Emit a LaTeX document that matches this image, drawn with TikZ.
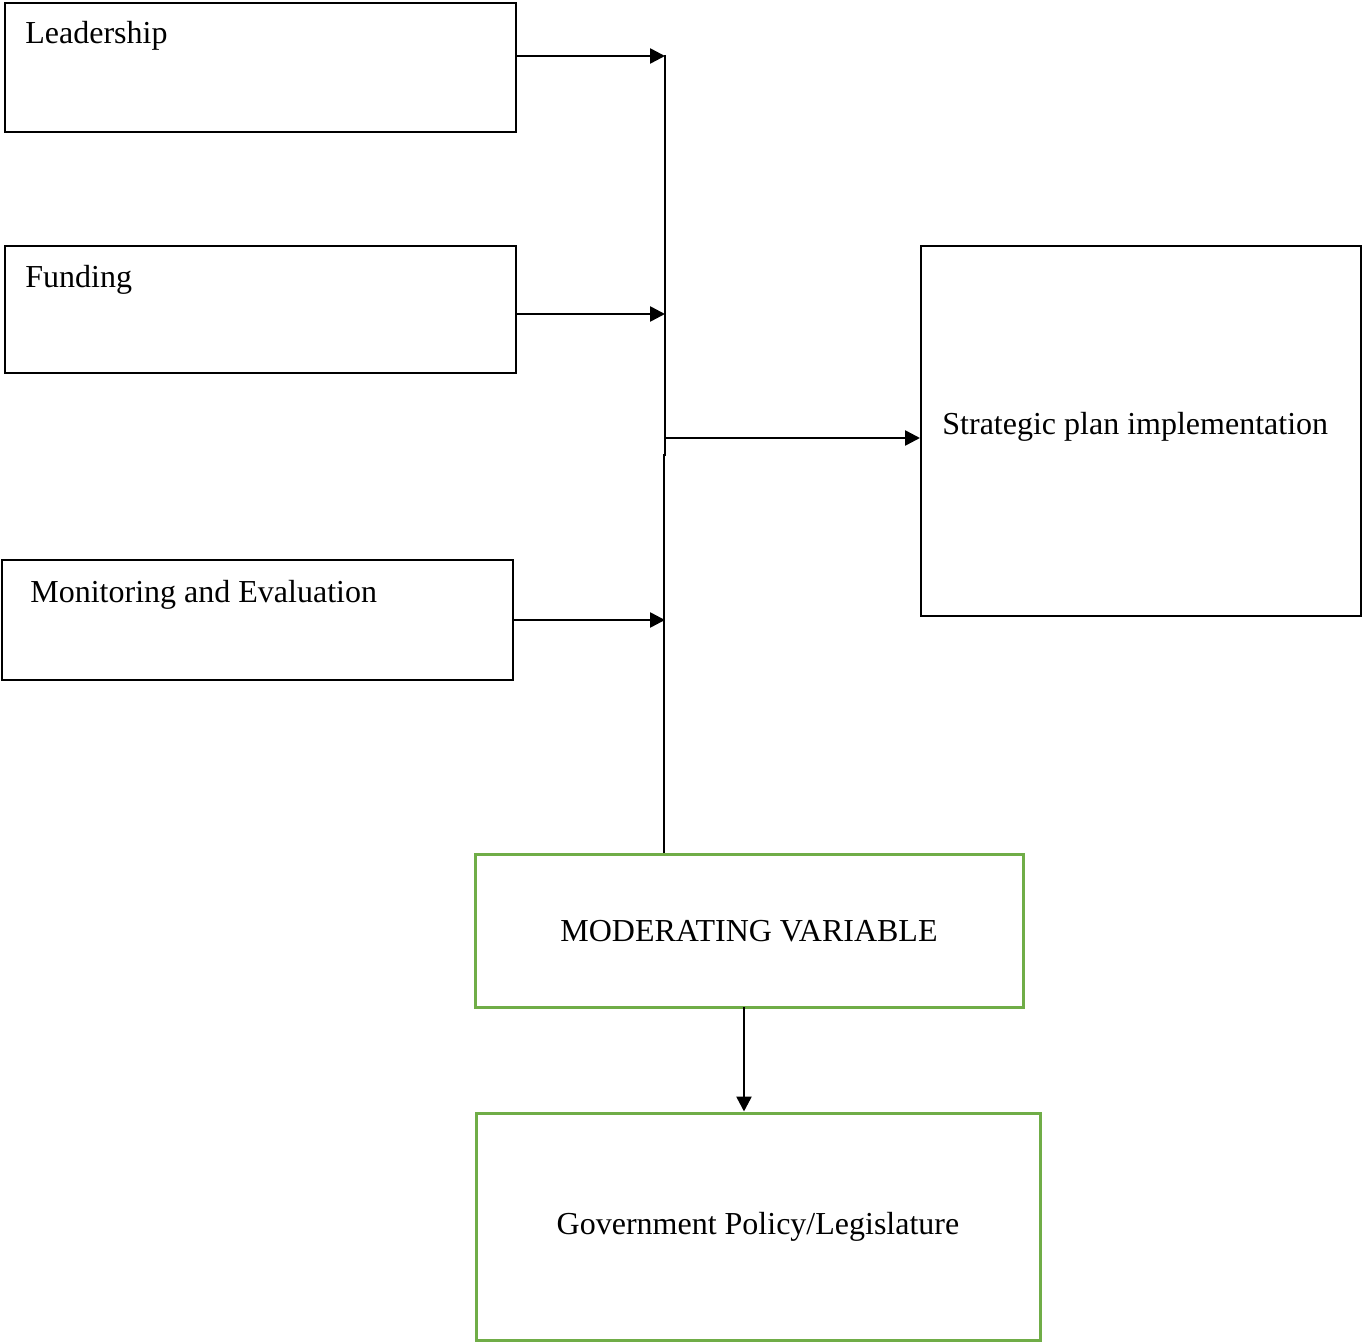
\documentclass[tikz,border=0pt]{standalone}
\usepackage{fontspec}
\setmainfont{Liberation Serif}
\usetikzlibrary{arrows.meta}
\usetikzlibrary{positioning}

\definecolor{modgreen}{RGB}{112,173,71}

\tikzset{
  box/.style={draw=black, line width=1pt, minimum width=#1, inner sep=0pt},
  gbox/.style={draw=modgreen, line width=1.5pt, inner sep=0pt},
  txt/.style={anchor=base west, inner sep=0pt},
  link/.style={line width=1.3pt},
  arr/.style={line width=1.3pt, -{Triangle[length=7.5pt,width=7.5pt]}}
}

\begin{document}
\begin{tikzpicture}[x=0.5pt,y=-0.5pt, font=\fontsize{16}{19}\selectfont]
\useasboundingbox (0,0) rectangle (1362,1342);

% independent variables
\node[box=255.5pt, minimum height=64.5pt] (lead) at (260.5,67.5) {};
\node[box=255.5pt, minimum height=63.5pt] (fund) at (260.5,309.5) {};
\node[box=255.5pt, minimum height=60pt] (me) at (257.5,620) {};
\node[txt] (leadtxt) at (25,44) {Leadership};
\node[txt] (fundtxt) at (25,288) {Funding};
\node[txt] (metxt) at (30,603) {Monitoring and Evaluation};

% dependent variable
\node[box=220pt, minimum height=185pt] (spi) at (1141,431) {};
\node[txt] (spitxt) at (942,435) {Strategic plan implementation};

% moderating variable
\node[gbox, minimum width=274pt, minimum height=76pt] (mv) at (749,931) {\raisebox{-1pt}{MODERATING VARIABLE}};
\node[gbox, minimum width=282pt, minimum height=113.5pt] (gpl) at (758,1226.5) {\raisebox{-1.5pt}{Government Policy/Legislature}};

\coordinate (j1) at (665,56);
\coordinate (j2) at (665,314);
\coordinate (j3) at (665,620);
\coordinate (j4) at (665,438);
\coordinate (kink) at (665,455);
\coordinate (busb) at (664,455);
\coordinate (mvout) at (744,1007);

\draw[arr] (lead.east |- j1) -- (j1);
\draw[arr] (fund.east |- j2) -- (j2);
\draw[arr] (me.east |- j3) -- (j3);
\draw[link] ([yshift=0.6pt]j1) -- (kink) -- (busb) -- (busb |- mv.north);
\draw[arr] (j4) -- (j4 -| spi.west);
\draw[arr] (mvout) -- (mvout |- gpl.north);
\end{tikzpicture}
\end{document}
